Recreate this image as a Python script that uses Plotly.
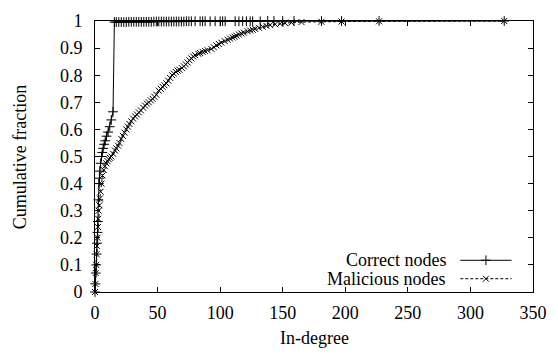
import plotly.graph_objects as go

# In-degree CDF, correct nodes
correct_x = [0, 0.3, 0.6, 1, 1.3, 1.6, 2, 2.3, 2.7, 3.1, 3.5, 3.9, 4.5, 5.2, 5.8, 6.5, 7.3, 8.2, 9.2,
             10.5, 11.8, 13, 14.4,
             15.5, 17, 19, 21, 23, 25, 27, 29, 31, 33, 35, 37, 39, 41, 43, 45, 47, 49, 51, 53, 55, 57, 59,
             61, 63, 65, 67, 69, 71, 73, 75, 77, 80, 84, 86, 88, 92, 96, 100, 102, 104, 112, 115, 118,
             121, 124, 126, 132, 138, 143, 150, 159, 181, 197, 227, 327]
correct_y = [0.0, 0.03, 0.07, 0.1, 0.14, 0.18, 0.22, 0.26, 0.34, 0.4, 0.42, 0.446, 0.475, 0.5, 0.515,
             0.53, 0.545, 0.558, 0.575, 0.59, 0.61, 0.635, 0.665,
             0.996, 0.996, 0.996, 0.996, 0.996, 0.996, 0.997, 0.997, 0.997, 0.997, 0.997, 0.997, 0.997,
             0.997, 0.997, 0.997, 0.998, 0.998, 0.998, 0.998, 0.998, 0.998, 0.998, 0.998, 0.998, 0.998,
             0.998, 0.998, 0.998, 0.999, 0.999, 0.999, 0.999, 0.999, 0.999, 0.999, 0.999, 0.999, 0.999,
             0.999, 0.999, 0.999, 0.999, 0.999, 0.999, 0.999, 0.999, 0.999, 1.0, 1.0, 1.0, 1.0, 1.0, 1.0,
             1.0, 1.0]

# In-degree CDF, malicious nodes
malicious_x = [0, 0.3, 0.6, 1, 1.3, 1.6, 2, 2.3, 2.6, 3, 3.5, 3.9, 4.5, 5.2, 6, 7, 7.9, 9, 10, 11, 12,
               13.1, 14.5, 16, 17, 18.4, 19.5, 21, 22.3, 23.6, 25, 26.3, 27.5, 28.9, 30.5, 32, 33.5, 35,
               36.7, 38.5, 40, 41.5, 43, 44.6, 46, 47.5, 49, 51, 52.5, 54, 55.5, 57, 58.5, 60, 61.6, 63,
               64.5, 66, 67.5, 69.5, 71, 72.5, 74, 75.5, 77, 78.5, 80, 82.6, 84, 86, 88, 90, 93, 95, 97,
               99, 101, 103.6, 106, 108, 110, 111.5, 113, 115, 117, 119, 122, 124, 126, 128, 131, 134,
               137, 140, 144, 148, 152, 157, 165, 181, 197, 227, 327]
malicious_y = [0.0, 0.03, 0.07, 0.1, 0.14, 0.17, 0.2, 0.24, 0.27, 0.3, 0.32, 0.345, 0.37, 0.4, 0.43, 0.45,
               0.464, 0.475, 0.483, 0.49, 0.495, 0.5, 0.51, 0.522, 0.53, 0.54, 0.55, 0.565, 0.576, 0.588,
               0.6, 0.61, 0.62, 0.63, 0.64, 0.648, 0.655, 0.663, 0.67, 0.68, 0.688, 0.695, 0.70, 0.707,
               0.713, 0.72, 0.728, 0.743, 0.75, 0.757, 0.763, 0.77, 0.78, 0.79, 0.80, 0.806, 0.812, 0.817,
               0.82, 0.826, 0.833, 0.84, 0.847, 0.855, 0.862, 0.869, 0.874, 0.879, 0.882, 0.886, 0.889,
               0.892, 0.897, 0.903, 0.91, 0.915, 0.92, 0.926, 0.931, 0.935, 0.939, 0.942, 0.946, 0.95,
               0.954, 0.957, 0.962, 0.965, 0.968, 0.971, 0.975, 0.979, 0.982, 0.985, 0.988, 0.99, 0.992,
               0.994, 0.996, 0.997, 0.998, 0.999, 1.0]

series_names = ["Correct nodes", "Malicious nodes"]
x_ticks = [0, 50, 100, 150, 200, 250, 300, 350]
y_ticks = [0, 0.1, 0.2, 0.3, 0.4, 0.5, 0.6, 0.7, 0.8, 0.9, 1]

FONT = "Liberation Serif, Times New Roman, Times, serif"
FS = 18
TXT = dict(family=FONT, size=FS, color="black")

fig = go.Figure()
fig.add_trace(go.Scatter(
    x=correct_x, y=correct_y, mode="lines+markers", name=series_names[0],
    line=dict(color="black", width=1),
    marker=dict(symbol="cross-thin", size=7, line=dict(color="black", width=1)),
    showlegend=False, cliponaxis=False))
fig.add_trace(go.Scatter(
    x=malicious_x, y=malicious_y, mode="lines+markers", name=series_names[1],
    line=dict(color="black", width=1, dash="3px,2px"),
    marker=dict(symbol="x-thin", size=6, line=dict(color="black", width=1)),
    showlegend=False, cliponaxis=False))

# Key samples drawn on a hidden overlay axis in plot-fraction units
key_y = [0.117, 0.049]
key_styles = [(dict(color="black", width=1), "cross-thin", 7),
              (dict(color="black", width=1, dash="3px,2px"), "x-thin", 6)]
for name, ky, (lstyle, sym, ms) in zip(series_names, key_y, key_styles):
    fig.add_trace(go.Scatter(
        x=[0.834, 0.951], y=[ky, ky], mode="lines", line=lstyle,
        xaxis="x2", yaxis="y2", showlegend=False, hoverinfo="skip"))
    fig.add_trace(go.Scatter(
        x=[0.8925], y=[ky], mode="markers",
        marker=dict(symbol=sym, size=ms, line=dict(color="black", width=1)),
        xaxis="x2", yaxis="y2", showlegend=False, hoverinfo="skip"))
    fig.add_annotation(x=0.807, y=ky, xref="x2", yref="y2", text=name, showarrow=False,
                       xanchor="right", yanchor="middle", font=TXT)

# Axis titles
fig.add_annotation(x=0.5, y=-0.171, xref="paper", yref="paper", text="In-degree",
                   showarrow=False, xanchor="center", yanchor="middle", font=TXT)
fig.add_annotation(x=-0.171, y=0.498, xref="paper", yref="paper", text="Cumulative fraction",
                   showarrow=False, textangle=-90, xanchor="center", yanchor="middle", font=TXT)

axis_common = dict(showgrid=False, zeroline=False, showline=True, linecolor="black", linewidth=1,
                   mirror="ticks", ticks="inside", ticklen=5, tickcolor="black", tickwidth=1,
                   tickfont=TXT)

fig.update_layout(
    width=558, height=356,
    margin=dict(l=95, r=18, t=11, b=64),
    paper_bgcolor="white", plot_bgcolor="white",
    xaxis=dict(range=[0, 350], tickvals=x_ticks, ticktext=[str(v) for v in x_ticks],
               ticklabelstandoff=4, **axis_common),
    yaxis=dict(range=[0, 1], tickvals=y_ticks, ticktext=[f"{v:g}" for v in y_ticks],
               ticklabelstandoff=8, **axis_common),
    xaxis2=dict(range=[0, 1], overlaying="x", visible=False),
    yaxis2=dict(range=[0, 1], overlaying="y", visible=False),
)

fig.write_html("out.html")
